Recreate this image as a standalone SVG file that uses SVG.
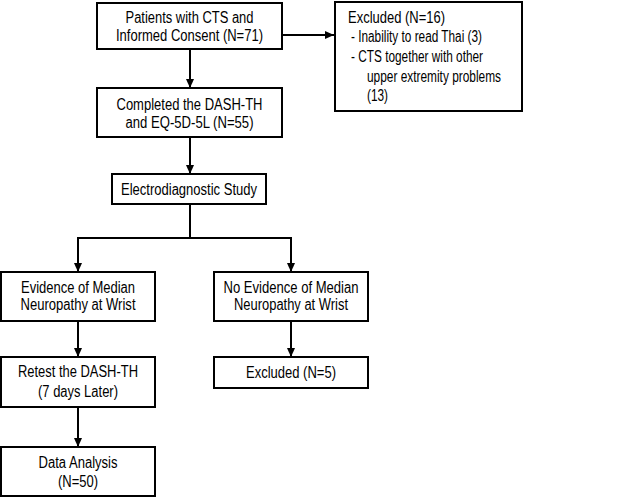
<svg xmlns="http://www.w3.org/2000/svg" width="638" height="497" viewBox="0 0 638 497">
<defs>
<marker id="ah" markerWidth="10" markerHeight="8" refX="9" refY="4" orient="auto" markerUnits="userSpaceOnUse">
<path d="M0,0 L9,4 L0,8 Z" fill="#000"/>
</marker>
<style>
rect{fill:#fff;stroke:#000;stroke-width:2}
text{font-family:"Liberation Sans",Arial,sans-serif;font-size:16px;fill:#000}
.c{text-anchor:middle}
.ln{fill:none;stroke:#000;stroke-width:2}
.ar{marker-end:url(#ah)}
</style>
</defs>
<rect x="0" y="0" width="638" height="497" style="stroke:none;fill:#fff"/>
<g id="connectors">
<line class="ln ar" x1="282" y1="35" x2="334" y2="35"/>
<line class="ln ar" x1="190" y1="49" x2="190" y2="88"/>
<line class="ln ar" x1="190" y1="137" x2="190" y2="174"/>
<polyline class="ln" points="190,204 190,238"/>
<polyline class="ln ar" points="190,238 78,238 78,272"/>
<polyline class="ln ar" points="190,238 291,238 291,272"/>
<line class="ln ar" x1="78" y1="321" x2="78" y2="357"/>
<line class="ln ar" x1="291" y1="321" x2="291" y2="357"/>
<line class="ln ar" x1="78" y1="407" x2="78" y2="447"/>
</g>
<g id="n1">
<rect x="97" y="3" width="185" height="46"/>
<text class="c" x="189.5" y="23" textLength="128" lengthAdjust="spacingAndGlyphs">Patients with CTS and</text>
<text class="c" x="189.5" y="41" textLength="147" lengthAdjust="spacingAndGlyphs">Informed Consent (N=71)</text>
</g>
<g id="n_excl1">
<rect x="335" y="2" width="187" height="109"/>
<text x="348" y="23" textLength="97" lengthAdjust="spacingAndGlyphs">Excluded (N=16)</text>
<text x="351" y="42" textLength="131" lengthAdjust="spacingAndGlyphs">- Inability to read Thai (3)</text>
<text x="351" y="62" textLength="132" lengthAdjust="spacingAndGlyphs">- CTS together with other</text>
<text x="367" y="82" textLength="134" lengthAdjust="spacingAndGlyphs">upper extremity problems</text>
<text x="367" y="101" textLength="21" lengthAdjust="spacingAndGlyphs">(13)</text>
</g>
<g id="n2">
<rect x="97" y="88" width="185" height="49"/>
<text class="c" x="189.5" y="110" textLength="146" lengthAdjust="spacingAndGlyphs">Completed the DASH-TH</text>
<text class="c" x="189.5" y="128" textLength="128" lengthAdjust="spacingAndGlyphs">and EQ-5D-5L (N=55)</text>
</g>
<g id="n3">
<rect x="112" y="174" width="154" height="30"/>
<text class="c" x="189" y="195" textLength="136" lengthAdjust="spacingAndGlyphs">Electrodiagnostic Study</text>
</g>
<g id="n4">
<rect x="1" y="272" width="154" height="49"/>
<text class="c" x="78" y="293" textLength="114" lengthAdjust="spacingAndGlyphs">Evidence of Median</text>
<text class="c" x="78" y="310" textLength="115" lengthAdjust="spacingAndGlyphs">Neuropathy at Wrist</text>
</g>
<g id="n5">
<rect x="214" y="272" width="154" height="49"/>
<text class="c" x="291" y="293" textLength="135" lengthAdjust="spacingAndGlyphs">No Evidence of Median</text>
<text class="c" x="291" y="310" textLength="114" lengthAdjust="spacingAndGlyphs">Neuropathy at Wrist</text>
</g>
<g id="n6">
<rect x="1" y="357" width="154" height="50"/>
<text class="c" x="78" y="377" textLength="120" lengthAdjust="spacingAndGlyphs">Retest the DASH-TH</text>
<text class="c" x="78" y="397" textLength="80" lengthAdjust="spacingAndGlyphs">(7 days Later)</text>
</g>
<g id="n7">
<rect x="214" y="357" width="154" height="31"/>
<text class="c" x="291" y="378" textLength="90" lengthAdjust="spacingAndGlyphs">Excluded (N=5)</text>
</g>
<g id="n8">
<rect x="1" y="447" width="154" height="49"/>
<text class="c" x="78" y="468" textLength="79" lengthAdjust="spacingAndGlyphs">Data Analysis</text>
<text class="c" x="78" y="487" textLength="40" lengthAdjust="spacingAndGlyphs">(N=50)</text>
</g>
</svg>
